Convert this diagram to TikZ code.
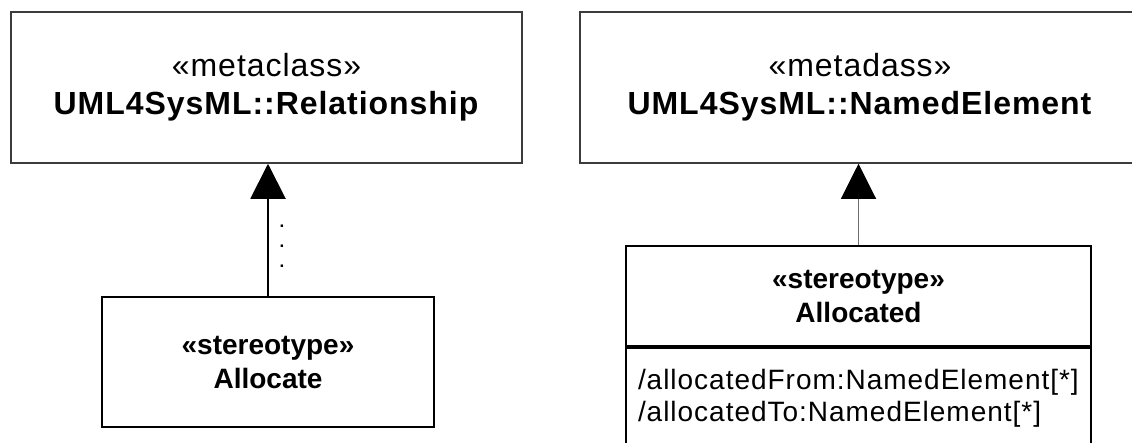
\documentclass[tikz,border=0pt]{standalone}
\usepackage{fontspec}
\setmainfont{Liberation Sans}
\newfontfamily\spacedfont[LetterSpace=3]{Liberation Sans}
\newfontfamily\attrfont[LetterSpace=3.5]{Liberation Sans}
\usetikzlibrary{arrows.meta,positioning}
\definecolor{frameGray}{RGB}{60,60,60}
\definecolor{linkGray}{RGB}{110,110,110}

\begin{document}
\begin{tikzpicture}[x=1pt, y=-1pt,
  metabox/.style={draw=frameGray, line width=1.5pt, minimum height=151pt, align=center, font=\spacedfont\fontsize{32}{38}\selectfont},
  stereobox/.style={draw=black, line width=2.3pt, align=center, font=\bfseries\fontsize{28}{34}\selectfont},
  extends/.style={-{Triangle[length=35pt, width=35pt, color=black]}}]
\useasboundingbox (0,0) rectangle (1132,442);
\clip (0,0) rectangle (1132,442);
% metaclasses
\node[metabox, minimum width=511pt] (rel) at (266.5,87.5) {«metaclass»\\\textbf{UML4SysML::Relationship}};
\node[metabox, minimum width=560pt] (named) at (860,87.5) {«metadass»\\\textbf{UML4SysML::NamedElement}};
% stereotypes
\node[stereobox, minimum width=332pt, minimum height=130pt] (alloc) at (268,362) {«stereotype»\\Allocate};
\node[stereobox, line width=2pt, minimum width=465pt, minimum height=100pt] (allocdHead) at (858.5,296) {«stereotype»\\Allocated};
\node[draw=black, line width=2pt, anchor=north, minimum width=465pt, minimum height=100pt, text width=441pt, inner xsep=12pt, align=left, font=\attrfont\fontsize{28}{32}\selectfont] (allocdAttr) at (allocdHead.south) {/allocatedFrom:NamedElement[*]\\/allocatedTo:NamedElement[*]};
% extensions
\draw[extends, line width=2pt] (alloc.north) -- (alloc.north |- rel.south);
\node[font=\bfseries\fontsize{17}{20}\selectfont, align=center, inner sep=0pt] (gap) at (282,246) {.\\.\\.};
\draw[extends, draw=linkGray, line width=1pt] (allocdHead.north) -- (allocdHead.north |- named.south);
\end{tikzpicture}
\end{document}
